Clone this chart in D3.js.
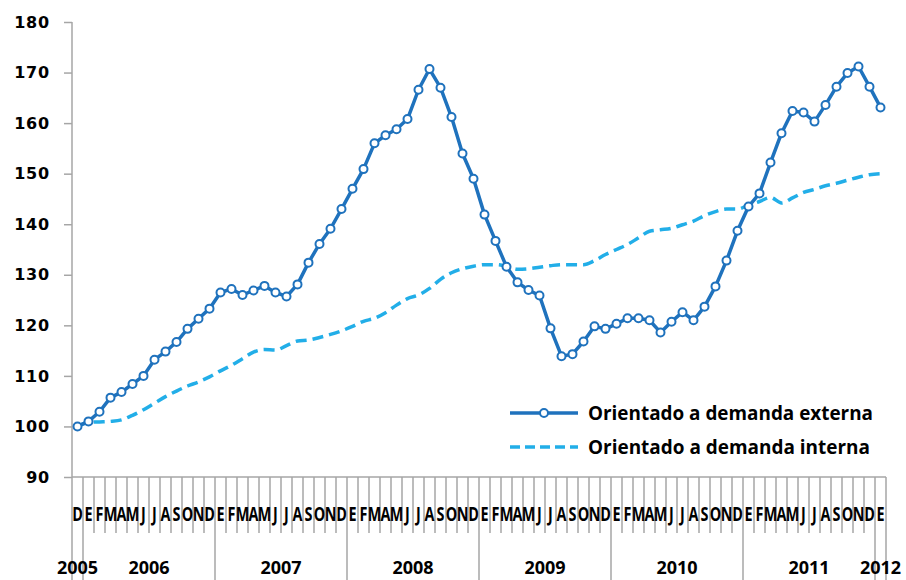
<!DOCTYPE html>
<html>
<head>
<meta charset="utf-8">
<script src="https://cdn.jsdelivr.net/npm/d3@7/dist/d3.min.js"></script>
<style>
  html, body { margin: 0; padding: 0; background: #ffffff; }
  svg { display: block; }
</style>
</head>
<body>
<svg id="chart" width="906" height="580"></svg>
<script>
// ---------- DATA ----------
const years = ["2005", "2006", "2007", "2008", "2009", "2010", "2011", "2012"];
const monthLetters = ["E", "F", "M", "A", "M", "J", "J", "A", "S", "O", "N", "D"];
// categories: Dec 2005 ... Jan 2012
const categories = [];
categories.push({ year: "2005", m: "D" });
for (const yr of ["2006", "2007", "2008", "2009", "2010", "2011"]) {
  for (const m of monthLetters) categories.push({ year: yr, m: m });
}
categories.push({ year: "2012", m: "E" });

const yTicks = [90, 100, 110, 120, 130, 140, 150, 160, 170, 180];

const seriesNames = ["Orientado a demanda externa", "Orientado a demanda interna"];

const externa = [
  100.0, 101.0, 102.9, 105.7, 106.8, 108.4, 110.0, 113.2, 114.8, 116.7, 119.3, 121.3, 123.3,
  126.5, 127.2, 126.0, 126.9, 127.8, 126.5, 125.7, 128.1, 132.4, 136.1, 139.1, 143.0, 147.0, 150.9,
  156.0, 157.6, 158.8, 160.8, 166.6, 170.7, 167.0, 161.2, 154.0, 149.0,
  141.9, 136.7, 131.6, 128.5, 127.0, 125.9, 119.4, 113.9, 114.3, 116.8, 119.8, 119.3,
  120.3, 121.4, 121.4, 121.0, 118.6, 120.7, 122.6, 121.0, 123.7, 127.7, 132.8, 138.7,
  143.5, 146.1, 152.2, 158.0, 162.4, 162.1, 160.3, 163.6, 167.2, 169.9, 171.2, 167.2,
  163.1
];

const interna = [
  100.0, 100.8, 100.9, 101.0, 101.3, 102.2, 103.3, 104.6, 105.9, 107.0, 108.0, 108.8, 109.8,
  111.0, 112.1, 113.4, 114.7, 115.2, 115.1, 116.0, 116.9, 117.1, 117.6, 118.2, 118.9, 119.8, 120.8,
  121.4, 122.5, 124.0, 125.3, 126.0, 127.3, 129.1, 130.4, 131.2, 131.7,
  132.0, 132.0, 131.7, 131.1, 131.2, 131.5, 131.8, 132.0, 132.0, 132.0, 132.8, 134.0,
  135.0, 136.0, 137.3, 138.6, 138.9, 139.2, 139.9, 140.6, 141.7, 142.5, 143.0, 143.0,
  143.8, 144.5, 145.3, 144.2, 145.2, 146.3, 146.9, 147.6, 148.1, 148.7, 149.3, 149.8,
  150.0
];

// ---------- LAYOUT ----------
const W = 906, H = 580;
const mLeft = 72, mRight = 886, mTop = 22, mBottom = 477;
const colExt = "#1F72BD";
const colInt = "#22AEE8";
const axisCol = "#A6A6A6";

const svg = d3.select("#chart");

const x = d3.scaleBand()
  .domain(d3.range(categories.length))
  .range([mLeft, mRight])
  .paddingInner(0).paddingOuter(0);
const cx = i => x(i) + x.bandwidth() / 2;

const y = d3.scaleLinear().domain([90, 180]).range([mBottom, mTop]);

// ---------- Y AXIS ----------
const yAxis = d3.axisLeft(y).tickValues(yTicks).tickSize(8).tickPadding(14).tickFormat(d3.format("d"));
const gy = svg.append("g").attr("transform", `translate(${mLeft},0)`).call(yAxis);
gy.select(".domain").remove();
gy.selectAll(".tick line").attr("stroke", axisCol).attr("stroke-width", 1.5);
gy.selectAll(".tick text")
  .attr("fill", "#000")
  .style("font-family", "'DejaVu Sans', Verdana, sans-serif")
  .style("font-weight", "bold")
  .style("font-size", "16px")
  .style("letter-spacing", "0.8px");
svg.append("line")
  .attr("x1", mLeft).attr("x2", mLeft).attr("y1", mTop).attr("y2", H)
  .attr("stroke", axisCol).attr("stroke-width", 1.5);

// ---------- X AXIS (multi-level) ----------
svg.append("line")
  .attr("x1", mLeft).attr("x2", mRight).attr("y1", mBottom).attr("y2", mBottom)
  .attr("stroke", axisCol).attr("stroke-width", 1.5);

// boundaries between categories
const boundaries = d3.range(1, categories.length + 1);
svg.append("g").selectAll("line").data(boundaries).join("line")
  .attr("x1", i => i < categories.length ? x(i) : mRight)
  .attr("x2", i => i < categories.length ? x(i) : mRight)
  .attr("y1", mBottom)
  .attr("y2", i => (i === categories.length || categories[i].year !== categories[i - 1].year) ? H : 533)
  .attr("stroke", axisCol).attr("stroke-width", 1.5);

// month letters
svg.append("g").selectAll("text").data(categories).join("text")
  .attr("transform", (d, i) => `translate(${cx(i)},521) scale(0.72,1)`)
  .attr("text-anchor", "middle")
  .style("font-family", "'Open Sans', 'Liberation Sans', sans-serif")
  .style("font-weight", "bold")
  .style("font-size", "20px")
  .attr("fill", "#000")
  .text(d => d.m);

// year labels
const yearGroups = years.map(yr => {
  const idx = categories.map((c, i) => c.year === yr ? i : -1).filter(i => i >= 0);
  return { year: yr, start: idx[0], end: idx[idx.length - 1] };
});
svg.append("g").selectAll("text").data(yearGroups).join("text")
  .attr("x", g => (x(g.start) + x(g.end) + x.bandwidth()) / 2)
  .attr("y", 574)
  .attr("text-anchor", "middle")
  .style("font-family", "'Open Sans', 'Liberation Sans', sans-serif")
  .style("font-weight", "bold")
  .style("font-size", "18px")
  .attr("fill", "#000")
  .text(g => g.year);

// ---------- SERIES ----------
const lineInt = d3.line().x((d, i) => cx(i)).y(d => y(d)).curve(d3.curveMonotoneX);
svg.append("path").datum(interna)
  .attr("d", lineInt)
  .attr("fill", "none")
  .attr("stroke", colInt)
  .attr("stroke-width", 3.5)
  .attr("stroke-dasharray", "11,6");

const lineExt = d3.line().x((d, i) => cx(i)).y(d => y(d));
svg.append("path").datum(externa)
  .attr("d", lineExt)
  .attr("fill", "none")
  .attr("stroke", colExt)
  .attr("stroke-width", 3.5)
  .attr("stroke-linejoin", "round");

svg.append("g").selectAll("circle").data(externa).join("circle")
  .attr("cx", (d, i) => cx(i))
  .attr("cy", d => y(d))
  .attr("r", 4)
  .attr("fill", "#fff")
  .attr("stroke", colExt)
  .attr("stroke-width", 2);

// ---------- LEGEND ----------
const legend = svg.append("g");
const legY = [413, 447];
legend.append("line")
  .attr("x1", 510).attr("x2", 578).attr("y1", legY[0]).attr("y2", legY[0])
  .attr("stroke", colExt).attr("stroke-width", 3.5);
legend.append("circle")
  .attr("cx", 544).attr("cy", legY[0]).attr("r", 4)
  .attr("fill", "#fff").attr("stroke", colExt).attr("stroke-width", 2);
legend.append("line")
  .attr("x1", 510).attr("x2", 578).attr("y1", legY[1]).attr("y2", legY[1])
  .attr("stroke", colInt).attr("stroke-width", 3.5)
  .attr("stroke-dasharray", "10,5");
legend.selectAll("text.leg").data(seriesNames).join("text")
  .attr("class", "leg")
  .attr("x", 588)
  .attr("y", (d, i) => legY[i] + 7)
  .attr("textLength", (d, i) => i === 0 ? 285 : 282)
  .attr("lengthAdjust", "spacingAndGlyphs")
  .style("font-family", "'Open Sans', 'Liberation Sans', sans-serif")
  .style("font-weight", "bold")
  .style("font-size", "19px")
  .attr("fill", "#000")
  .text(d => d);
</script>
</body>
</html>
